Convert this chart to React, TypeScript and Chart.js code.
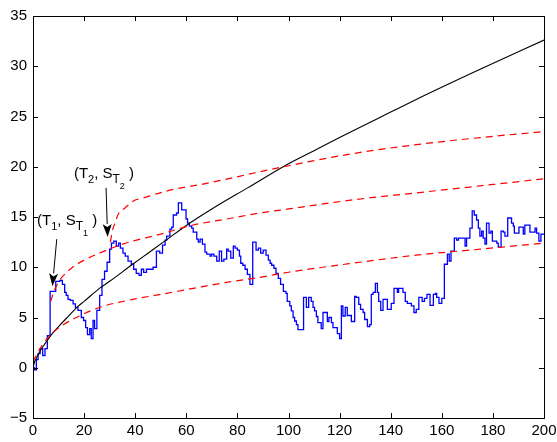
import React, { useEffect, useRef } from "react";
import { Chart, registerables } from "chart.js";
Chart.register(...registerables);

// ---- data ----
const xTickValues = [0, 20, 40, 60, 80, 100, 120, 140, 160, 180, 200];
const yTickValues = [-5, 0, 5, 10, 15, 20, 25, 30, 35];

// blue random walk (step start x, value)
const blueX = [
  0, 0.5, 1.3, 2.0, 2.8, 3.8, 4.7, 5.6, 6.7, 8.9, 10.5, 11.5, 12.4, 13.0, 13.7, 14.6, 15.7, 16.6, 17.6, 18.9,
  19.8, 20.6, 21.3, 22.2, 22.8, 23.5, 24.1, 25.0, 26.1, 27.0, 28.0, 29.0, 30.0, 30.7, 31.6, 32.6, 33.5, 34.2, 35.2, 36.1,
  37.2, 38.5, 39.4, 40.4, 41.5, 42.4, 43.3, 44.4, 47.0, 48.3, 49.6, 50.7, 51.7, 52.3, 53.6, 54.3, 54.9, 56.2, 56.9, 58.2,
  59.9, 60.5, 61.2, 62.1, 62.7, 64.1, 64.7, 65.4, 66.3, 67.3, 68.0, 69.3, 69.9, 70.8, 71.9, 72.9, 73.8, 74.7, 75.8, 76.4,
  77.4, 78.4, 79.1, 80.0, 80.8, 81.3, 82.1, 83.0, 83.9, 84.9, 86.0, 87.3, 88.2, 89.1, 90.1, 91.2, 92.1, 92.8, 93.4, 94.3,
  95.1, 96.0, 96.9, 98.0, 99.0, 99.5, 100.5, 101.1, 101.8, 102.4, 103.1, 103.7, 105.9, 107.0, 107.9, 108.9, 109.6, 110.2, 110.9, 111.5,
  112.8, 113.5, 115.2, 115.8, 116.8, 117.4, 119.1, 120.0, 120.7, 121.3, 122.2, 123.0, 124.6, 125.9, 126.5, 127.5, 128.2, 129.2, 129.8, 130.9,
  131.8, 132.4, 133.1, 134.0, 134.8, 135.3, 136.1, 137.0, 138.7, 140.2, 141.3, 142.6, 143.1, 144.8, 145.7, 146.5, 148.1, 149.1, 150.0, 151.0,
  152.3, 153.2, 154.2, 155.4, 156.7, 157.5, 158.0, 158.9, 160.0, 161.0, 162.2, 162.9, 163.6, 164.9, 165.8, 166.5, 169.1, 169.7, 171.0, 171.9,
  172.7, 173.6, 174.3, 174.9, 175.6, 176.2, 176.9, 177.5, 178.5, 179.2, 179.8, 181.5, 182.1, 183.2, 184.1, 184.7, 185.8, 187.3, 188.0, 188.4,
  190.2, 191.9, 192.5, 194.5, 196.5, 197.1, 198.0, 198.8, 200,
];
const blueY = [
  0.0, -0.2, 0.8, 1.4, 1.9, 1.2, 1.9, 3.2, 7.6, 8.6, 8.7, 8.3, 7.5, 7.2, 6.8, 6.7, 6.35, 6.0, 5.7, 5.0,
  4.7, 4.0, 3.3, 3.9, 2.9, 4.7, 3.9, 5.7, 7.2, 8.8, 9.6, 10.5, 11.8, 12.4, 12.6, 12.1, 12.4, 11.9, 11.4, 11.1,
  10.6, 10.3, 9.8, 9.4, 9.2, 9.8, 9.5, 9.8, 10.0, 11.6, 11.4, 12.2, 12.7, 13.1, 13.8, 14.0, 15.2, 15.4, 16.4, 15.7,
  14.8, 14.4, 14.1, 13.9, 13.5, 12.8, 12.5, 12.8, 12.3, 11.5, 11.3, 11.1, 11.3, 11.1, 10.6, 11.6, 10.6, 10.8, 11.8, 11.6,
  10.9, 12.1, 11.9, 11.7, 11.1, 10.4, 10.2, 9.8, 9.3, 8.3, 12.5, 11.7, 11.9, 11.4, 11.7, 11.2, 10.7, 10.4, 10.2, 9.9,
  9.4, 8.9, 8.3, 7.6, 7.4, 6.6, 6.15, 5.65, 5.0, 4.65, 4.3, 3.8, 7.0, 6.0, 7.0, 6.6, 6.0, 5.65, 5.1, 4.5,
  3.9, 5.5, 4.6, 5.0, 4.5, 4.0, 3.4, 2.9, 6.15, 5.15, 6.0, 5.2, 4.6, 7.1, 7.0, 6.3, 5.8, 5.5, 4.8, 4.1,
  4.3, 7.3, 7.5, 8.4, 7.5, 6.6, 5.7, 6.8, 5.8, 6.4, 7.9, 7.5, 7.9, 7.5, 6.6, 6.4, 6.15, 5.5, 5.8, 7.0,
  6.6, 6.9, 7.3, 6.2, 7.3, 7.4, 7.0, 6.4, 6.9, 10.3, 11.3, 10.6, 11.6, 12.9, 12.7, 12.9, 12.1, 12.9, 13.9, 15.6,
  15.2, 14.7, 13.9, 13.1, 13.6, 12.9, 12.3, 14.4, 13.4, 13.6, 12.6, 12.4, 12.0, 13.6, 13.5, 13.1, 14.9, 14.4, 14.1, 13.4,
  14.0, 13.3, 14.2, 13.5, 13.9, 13.4, 12.6, 13.3, 13.3,
];

// black curve
const blackX = [0, 0.5, 1, 2.6, 5, 7.2, 10, 13, 17.6, 20, 26, 30, 39, 45, 51, 62, 70, 84, 100, 110, 120, 135, 150, 175, 200];
const blackY = [0, 0.5, 0.8, 1.6, 2.5, 3.3, 4.1, 4.9, 6.1, 6.6, 7.9, 8.6, 10.3, 11.4, 12.5, 14.5, 15.8, 17.9, 20.3, 21.6, 22.9, 24.8, 26.7, 29.7, 32.6];

// red dashed curves
const redLowX = [0, 1, 3, 5.2, 7.8, 12, 17, 26, 39, 50, 62.7, 75.8, 88.8, 100, 125, 150, 175, 200];
const redLowY = [0.6, 1.1, 2.0, 2.8, 3.5, 4.3, 5.0, 6.0, 6.8, 7.3, 7.9, 8.5, 9.0, 9.5, 10.4, 11.2, 11.8, 12.4];
const redMidX = [6.9, 8.2, 9.5, 11, 15, 20, 26, 35, 50, 62.7, 75.8, 88.8, 100, 125, 150, 175, 200];
const redMidY = [6.6, 7.6, 8.3, 8.9, 9.9, 10.7, 11.4, 12.3, 13.3, 14.2, 14.8, 15.4, 15.8, 16.7, 17.4, 18.1, 18.8];
const redTopX = [30.3, 31.2, 32.1, 33.4, 36, 39.3, 43.2, 51, 60, 65, 74.5, 87, 100, 125, 150, 175, 200];
const redTopY = [12.5, 13.75, 14.4, 15.3, 15.9, 16.6, 16.9, 17.5, 18.0, 18.2, 18.7, 19.4, 20.1, 21.3, 22.2, 22.9, 23.5];

// annotations (data coordinates)
const label1 = { x: 1.6, y: 14.25, idx: "1" };
const label2 = { x: 16.0, y: 18.9, idx: "2" };
const arrow1 = { x1: 9.3, y1: 12.8, x2: 7.6, y2: 8.1 };
const arrow2 = { x1: 28.6, y1: 17.9, x2: 29.2, y2: 13.0 };

const FONT = '"Liberation Sans", Arial, Helvetica, sans-serif';

const zip = (xs: number[], ys: number[]) => xs.map((x, i) => ({ x, y: ys[i] }));

function drawRich(ctx: CanvasRenderingContext2D, x: number, y: number, parts: [string, number, number][]) {
  let cx = x;
  ctx.fillStyle = "#000";
  ctx.textBaseline = "alphabetic";
  ctx.textAlign = "left";
  for (const [t, size, dy] of parts) {
    ctx.font = `${size}px ${FONT}`;
    ctx.fillText(t, cx, y + dy);
    cx += ctx.measureText(t).width;
  }
}

function drawArrow(ctx: CanvasRenderingContext2D, x1: number, y1: number, x2: number, y2: number) {
  const ang = Math.atan2(y2 - y1, x2 - x1);
  const hl = 13, hw = 4.5;
  const bx = x2 - hl * Math.cos(ang), by = y2 - hl * Math.sin(ang);
  ctx.strokeStyle = "#000";
  ctx.lineWidth = 1;
  ctx.beginPath();
  ctx.moveTo(x1, y1);
  ctx.lineTo(bx, by);
  ctx.stroke();
  ctx.fillStyle = "#000";
  ctx.beginPath();
  ctx.moveTo(x2, y2);
  ctx.lineTo(bx + hw * Math.sin(ang), by - hw * Math.cos(ang));
  ctx.lineTo(bx + 3 * Math.cos(ang), by + 3 * Math.sin(ang));
  ctx.lineTo(bx - hw * Math.sin(ang), by + hw * Math.cos(ang));
  ctx.closePath();
  ctx.fill();
}

const framePlugin = {
  id: "frameAndNotes",
  afterDatasetsDraw(chart: any) {
    const ctx: CanvasRenderingContext2D = chart.ctx;
    const { left, right, top, bottom } = chart.chartArea;
    const xs = chart.scales.x, ys = chart.scales.y;
    ctx.save();
    ctx.strokeStyle = "#000";
    ctx.lineWidth = 1;
    ctx.strokeRect(Math.round(left) + 0.5, Math.round(top) + 0.5, Math.round(right - left), Math.round(bottom - top));
    const tl = 5;
    ctx.beginPath();
    for (const v of xTickValues) {
      const px = Math.round(xs.getPixelForValue(v)) + 0.5;
      ctx.moveTo(px, bottom);
      ctx.lineTo(px, bottom - tl);
      ctx.moveTo(px, top);
      ctx.lineTo(px, top + tl);
    }
    for (const v of yTickValues) {
      const py = Math.round(ys.getPixelForValue(v)) + 0.5;
      ctx.moveTo(left, py);
      ctx.lineTo(left + tl, py);
      ctx.moveTo(right, py);
      ctx.lineTo(right - tl, py);
    }
    ctx.stroke();

    drawRich(ctx, xs.getPixelForValue(label1.x), ys.getPixelForValue(label1.y), [
      ["(T", 15, 0], [label1.idx, 11, 5], [", S", 15, 0], ["T", 12, 5], [label1.idx, 9, 11], [" )", 15, 0],
    ]);
    drawRich(ctx, xs.getPixelForValue(label2.x), ys.getPixelForValue(label2.y), [
      ["(T", 15, 0], [label2.idx, 11, 5], [", S", 15, 0], ["T", 12, 5], [label2.idx, 9, 11], [" )", 15, 0],
    ]);
    for (const a of [arrow1, arrow2]) {
      drawArrow(ctx, xs.getPixelForValue(a.x1), ys.getPixelForValue(a.y1), xs.getPixelForValue(a.x2), ys.getPixelForValue(a.y2));
    }
    ctx.restore();
  },
};

export default function App() {
  const ref = useRef<HTMLCanvasElement>(null);
  useEffect(() => {
    const tickFont = { family: FONT, size: 15 };
    const chart = new Chart(ref.current!, {
      type: "line",
      data: {
        datasets: [
          {
            data: zip(redLowX, redLowY), borderColor: "#ff0000", borderWidth: 1.2, borderDash: [7, 5],
            pointRadius: 0, cubicInterpolationMode: "monotone", order: 0,
          },
          {
            data: zip(redMidX, redMidY), borderColor: "#ff0000", borderWidth: 1.2, borderDash: [7, 5],
            pointRadius: 0, cubicInterpolationMode: "monotone", order: 0,
          },
          {
            data: zip(redTopX, redTopY), borderColor: "#ff0000", borderWidth: 1.2, borderDash: [7, 5],
            pointRadius: 0, cubicInterpolationMode: "monotone", order: 0,
          },
          {
            data: zip(blackX, blackY), borderColor: "#000000", borderWidth: 1.1,
            pointRadius: 0, cubicInterpolationMode: "monotone", order: 1,
          },
          {
            data: zip(blueX, blueY), borderColor: "#0000ff", borderWidth: 1.3,
            pointRadius: 0, stepped: true, order: 2,
          },
        ] as any,
      },
      options: {
        animation: false,
        responsive: false,
        events: [],
        layout: { padding: { top: 16, right: 13, left: 0, bottom: 0 } },
        plugins: { legend: { display: false }, tooltip: { enabled: false } },
        scales: {
          x: {
            type: "linear", min: 0, max: 200,
            grid: { display: false, drawTicks: false },
            border: { display: false },
            afterBuildTicks: (s: any) => { s.ticks = xTickValues.map((v) => ({ value: v })); },
            afterFit: (s: any) => { s.height = 24; s.paddingLeft = 0; s.paddingRight = 0; },
            ticks: { font: tickFont, color: "#000", padding: 4, maxRotation: 0, autoSkip: false, callback: (v: any) => String(v) },
          },
          y: {
            type: "linear", min: -5, max: 35,
            grid: { display: false, drawTicks: false },
            border: { display: false },
            afterBuildTicks: (s: any) => { s.ticks = yTickValues.map((v) => ({ value: v })); },
            afterFit: (s: any) => { s.width = 33; s.paddingTop = 0; s.paddingBottom = 0; },
            ticks: {
              font: tickFont, color: "#000", padding: 6, autoSkip: false,
              callback: (v: any) => (Number(v) < 0 ? "\u2212" + Math.abs(Number(v)) : String(v)),
            },
          },
        },
      } as any,
      plugins: [framePlugin],
    });
    return () => chart.destroy();
  }, []);
  return (
    <div style={{ position: "fixed", left: 0, top: 0, width: 557, height: 442, background: "#fff" }}>
      <canvas ref={ref} width={557} height={442} style={{ display: "block" }} />
    </div>
  );
}
